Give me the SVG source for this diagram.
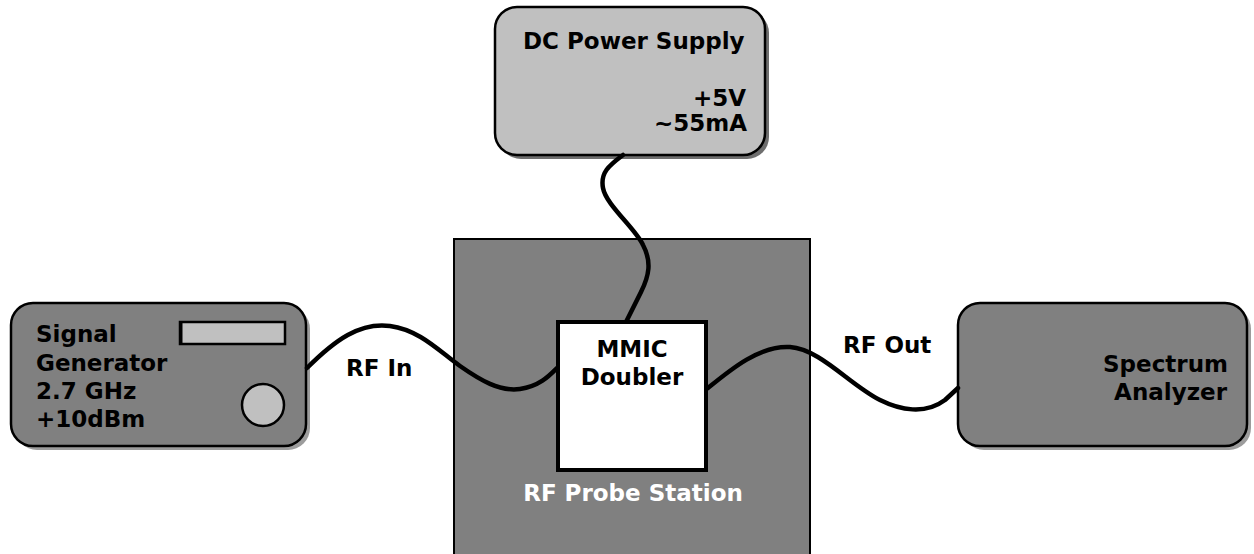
<svg xmlns="http://www.w3.org/2000/svg" width="1254" height="554" viewBox="0 0 1254 554">
<style>
text{font-family:"DejaVu Sans","Verdana",sans-serif;font-weight:bold;font-size:23px;fill:#000}
.box{stroke:#000;stroke-width:2.5}
.dark{fill:#808080}
.light{fill:#c0c0c0}
.shadow{stroke:none}
.wire{fill:none;stroke:#000;stroke-width:4.5;stroke-linecap:round;stroke-linejoin:round}
.white{fill:#fff}
</style>
<rect x="0" y="0" width="1254" height="554" fill="#fff"/>
<g id="probe-station">
<rect x="454" y="239" width="356" height="330" class="dark" stroke="#000" stroke-width="2"/>
<text x="633" y="501" text-anchor="middle" class="white">RF Probe Station</text>
</g>
<g id="dc-power-supply">
<rect x="499" y="11" width="270" height="148" rx="22" fill="#6e6e6e" class="shadow"/>
<rect x="495" y="7" width="270" height="148" rx="22" class="box light"/>
<text x="523" y="49">DC Power Supply</text>
<text x="746" y="106" text-anchor="end">+5V</text>
<text x="747" y="131" text-anchor="end">~55mA</text>
</g>
<g id="signal-generator">
<rect x="15" y="307" width="295" height="143" rx="22" fill="#9c9c9c" class="shadow"/>
<rect x="11" y="303" width="295" height="143" rx="22" class="box dark"/>
<rect x="180" y="322" width="105" height="22" class="light" stroke="#000" stroke-width="2.5"/>
<line x1="181" y1="321" x2="181" y2="345" stroke="#000" stroke-width="3"/>
<circle cx="263" cy="405" r="21" class="light" stroke="#000" stroke-width="2.5"/>
<text x="36" y="342">Signal</text>
<text x="36" y="371">Generator</text>
<text x="36" y="399">2.7 GHz</text>
<text x="36" y="427">+10dBm</text>
</g>
<g id="spectrum-analyzer">
<rect x="962" y="307" width="289" height="143" rx="22" fill="#9c9c9c" class="shadow"/>
<rect x="958" y="303" width="289" height="143" rx="22" class="box dark"/>
<text x="1228" y="372" text-anchor="end">Spectrum</text>
<text x="1227" y="400" text-anchor="end">Analyzer</text>
</g>
<g id="connectors">
<path class="wire" d="M623,155 C610,165 600,172 603,188 C606,205 635,228 643,245 C652,262 649,276 641,292 L626,322"/>
<path class="wire" d="M307,368 C335,340 360,322 390,326 C420,330 440,352 460,366 C480,380 500,392 520,389 C540,386 550,375 557,368"/>
<path class="wire" d="M708,388 C730,370 760,345 790,347 C820,349 850,385 880,400 C900,410 925,415 945,400 L958,388"/>
</g>
<g id="mmic-doubler">
<rect x="558" y="322" width="148" height="148" fill="#fff" stroke="#000" stroke-width="4"/>
<text x="632" y="357" text-anchor="middle">MMIC</text>
<text x="632" y="385" text-anchor="middle">Doubler</text>
</g>
<g id="labels">
<text x="346" y="376">RF In</text>
<text x="843" y="353">RF Out</text>
</g>
</svg>
